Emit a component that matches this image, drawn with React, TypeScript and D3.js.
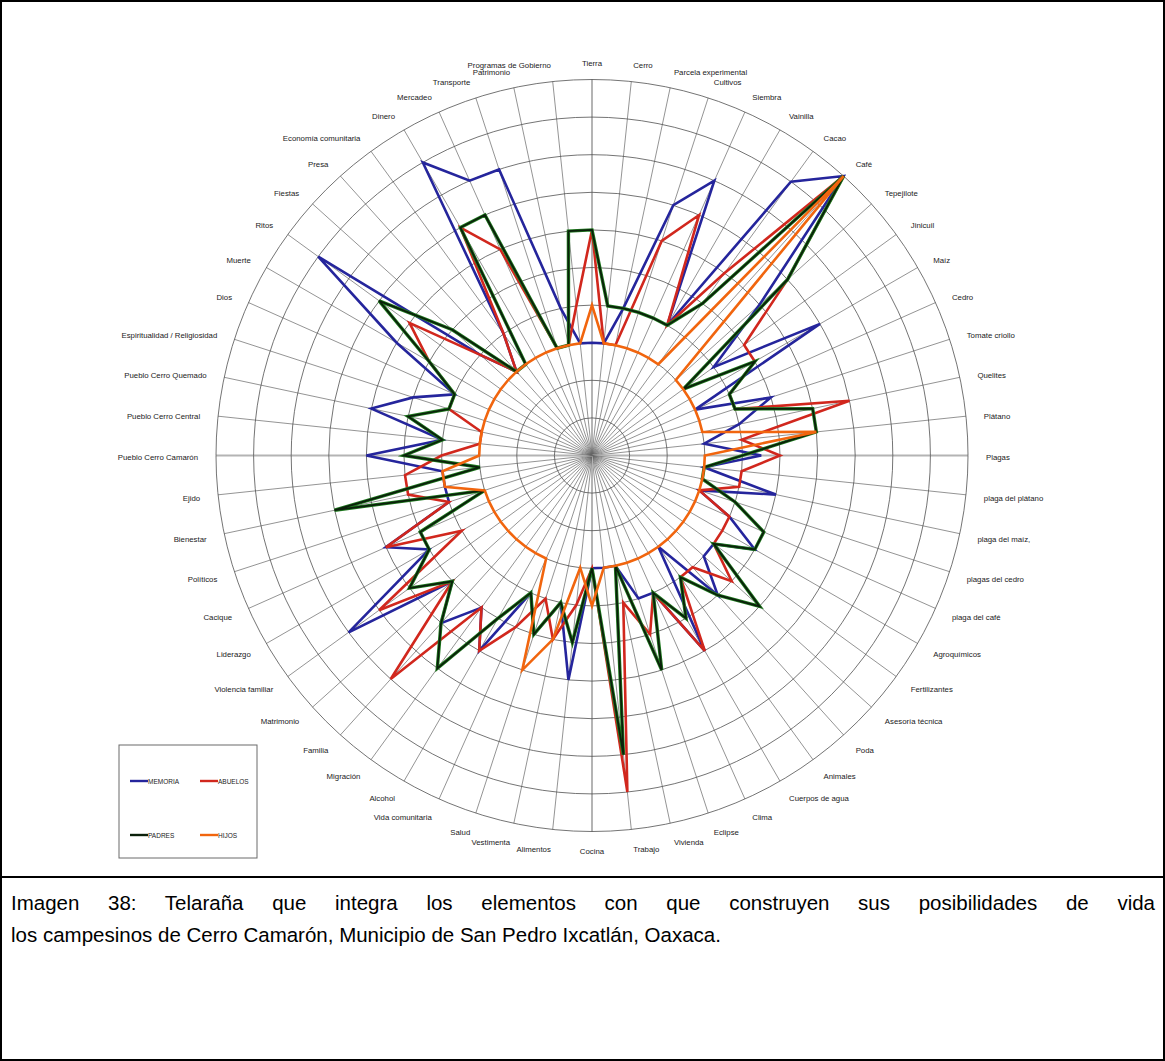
import { useEffect, useRef } from 'react';
import * as d3 from 'd3';

const categories = [
  'Tierra', 'Cerro', 'Parcela experimental', 'Cultivos', 'Siembra', 'Vainilla', 'Cacao', 'Café',
  'Tepejilote', 'Jinicuil', 'Maíz', 'Cedro', 'Tomate criollo', 'Quelites', 'Plátano', 'Plagas',
  'plaga del plátano', 'plaga del maíz,', 'plagas del cedro', 'plaga del café', 'Agroquímicos',
  'Fertilizantes', 'Asesoría técnica', 'Poda', 'Animales', 'Cuerpos de agua', 'Clima', 'Eclipse',
  'Vivienda', 'Trabajo', 'Cocina', 'Alimentos', 'Vestimenta', 'Salud', 'Vida comunitaria',
  'Alcohol', 'Migración', 'Familia', 'Matrimonio', 'Violencia familiar', 'Liderazgo', 'Cacique',
  'Políticos', 'Bienestar', 'Ejido', 'Pueblo Cerro Camarón', 'Pueblo Cerro Central',
  'Pueblo Cerro Quemado', 'Espiritualidad / Religiosidad', 'Dios', 'Muerte', 'Ritos', 'Fiestas',
  'Presa', 'Economía comunitaria', 'Dinero', 'Mercadeo', 'Transporte', 'Patrimonio',
  'Programas de Gobierno'
];

// values on the 0-10 ring scale, one per category
const memoria = [
  3, 3, 4, 7, 8, 4, 9, 10, 6, 4, 7, 3, 5, 4, 3, 4.5,
  3, 5, 3, 4, 5, 4, 4, 5, 3, 6, 4, 4, 3, 3,
  3, 6, 4, 5, 4, 6, 5, 6, 5, 8, 5, 6, 4, 4, 4,
  6, 4, 6, 5, 4, 6, 9, 4, 3, 4, 9, 8, 8, 4, 3
];
const abuelos = [
  6, 3, 3, 6, 7, 4, 6, 10, 7, 5, 5, 4, 4, 7, 4, 5,
  4, 4, 3, 4, 4, 4, 5, 4, 4, 6, 4, 5, 4, 9,
  3, 4, 5, 4, 5, 6, 5, 8, 5, 7, 4, 6, 4, 5, 5,
  4, 3, 3, 4, 4, 5, 6, 4, 3, 4, 7, 6, 3, 3, 4
];
const padres = [
  6, 4, 4, 4, 4, 4, 5, 10, 7, 3, 5, 4, 4, 6, 6, 4,
  3, 3, 4, 5, 5, 4, 6, 5, 4, 5, 4, 6, 3, 8,
  3, 5, 4, 5, 4, 5, 7, 6, 5, 6, 5, 5, 3, 7, 3,
  5, 4, 5, 4, 4, 5, 7, 5, 3, 3, 7, 7, 3, 3, 6
];
const hijos = [
  4, 3, 3, 3, 3, 3, 3, 10, 3, 3, 3, 3, 3, 3, 6, 3,
  3, 3, 3, 3, 3, 3, 3, 3, 3, 3, 3, 3, 3, 3,
  4, 3, 5, 6, 3, 3, 3, 3, 3, 3, 3, 3, 3, 4, 4,
  3, 3, 3, 3, 3, 3, 3, 3, 3, 3, 3, 3, 3, 3, 3
];

const seriesNames = ['MEMORIA', 'ABUELOS', 'PADRES', 'HIJOS'];
const seriesValues = [memoria, abuelos, padres, hijos];
const seriesColors = ['#25259c', '#d1271d', '#0a200a', '#f1650e'];

const captionLines = [
  'Imagen 38: Telaraña que integra los elementos con que construyen sus posibilidades de vida',
  'los campesinos de Cerro Camarón, Municipio de San Pedro Ixcatlán, Oaxaca.'
];

export default function App() {
  const svgRef = useRef<SVGSVGElement | null>(null);

  useEffect(() => {
    if (!svgRef.current) return;
    const width = 1165;
    const height = 1061;
    const cx = 592;
    const cy = 455.5;
    const R = 376;
    const labelR = 394;

    const svg = d3.select(svgRef.current);
    svg.selectAll('*').remove();
    svg.attr('width', width).attr('height', height);

    svg.append('rect').attr('width', width).attr('height', height).attr('fill', '#ffffff');

    const r = d3.scaleLinear().domain([0, 10]).range([0, R]);
    const angle = d3.scaleLinear().domain([0, categories.length]).range([0, 2 * Math.PI]);

    const g = svg.append('g').attr('transform', `translate(${cx},${cy})`);

    // spokes
    g.selectAll('line.spoke')
      .data(categories)
      .enter()
      .append('line')
      .attr('class', 'spoke')
      .attr('x1', 0)
      .attr('y1', 0)
      .attr('x2', (d, i) => r(10) * Math.sin(angle(i)))
      .attr('y2', (d, i) => -r(10) * Math.cos(angle(i)))
      .attr('stroke', (d, i) => (i % 15 === 0 ? '#b4b4b4' : '#666666'))
      .attr('stroke-width', (d, i) => (i % 15 === 0 ? 2 : 0.7));

    // rings
    g.selectAll('circle.ring')
      .data(d3.range(1, 11))
      .enter()
      .append('circle')
      .attr('class', 'ring')
      .attr('r', d => r(d))
      .attr('fill', 'none')
      .attr('stroke', '#505050')
      .attr('stroke-width', 0.8);

    // category labels
    g.selectAll('text.cat')
      .data(categories)
      .enter()
      .append('text')
      .attr('class', 'cat')
      .attr('x', (d, i) => labelR * Math.sin(angle(i)))
      .attr('y', (d, i) => -labelR * Math.cos(angle(i)) + 2)
      .attr('text-anchor', (d, i) => (i === 0 || i === 30 ? 'middle' : i < 30 ? 'start' : 'end'))
      .attr('dominant-baseline', 'central')
      .attr('font-family', '"Liberation Sans", Arial, sans-serif')
      .attr('font-size', 7.8)
      .attr('fill', '#1a1a1a')
      .text(d => d);

    const line = d3.lineRadial<number>()
      .angle((d, i) => angle(i))
      .radius(d => r(d))
      .curve(d3.curveLinearClosed);

    seriesValues.forEach((vals, k) => {
      if (k === 2) {
        g.append('path')
          .attr('d', line(vals))
          .attr('fill', 'none')
          .attr('stroke', '#1f7a1f')
          .attr('stroke-width', 3.4)
          .attr('stroke-linejoin', 'miter');
      }
      g.append('path')
        .attr('d', line(vals))
        .attr('fill', 'none')
        .attr('stroke', seriesColors[k])
        .attr('stroke-width', k === 2 ? 1.8 : 2.6)
        .attr('stroke-linejoin', 'miter');
    });

    // legend
    const lg = svg.append('g').attr('transform', 'translate(119,745)');
    lg.append('rect')
      .attr('width', 138)
      .attr('height', 113)
      .attr('fill', '#ffffff')
      .attr('stroke', '#6a6a6a')
      .attr('stroke-width', 1);
    const legendPos = [[11, 36], [81, 36], [11, 90], [81, 90]];
    seriesNames.forEach((name, k) => {
      const [lx, ly] = legendPos[k];
      lg.append('line')
        .attr('x1', lx).attr('x2', lx + 18)
        .attr('y1', ly).attr('y2', ly)
        .attr('stroke', seriesColors[k])
        .attr('stroke-width', 2.4);
      lg.append('text')
        .attr('x', lx + 18)
        .attr('y', ly)
        .attr('dominant-baseline', 'central')
        .attr('font-family', '"Liberation Sans", Arial, sans-serif')
        .attr('font-size', 6.5)
        .attr('fill', '#222')
        .text(name);
    });

    // page frame and caption
    svg.append('rect')
      .attr('x', 1).attr('y', 1)
      .attr('width', width - 2).attr('height', height - 2)
      .attr('fill', 'none')
      .attr('stroke', '#000')
      .attr('stroke-width', 2);
    svg.append('line')
      .attr('x1', 0).attr('x2', width)
      .attr('y1', 877).attr('y2', 877)
      .attr('stroke', '#000')
      .attr('stroke-width', 2);

    const capX = 11;
    const capRight = 1155;
    captionLines.forEach((txt, k) => {
      const t = svg.append('text')
        .attr('x', capX)
        .attr('y', 910 + k * 32)
        .attr('font-family', '"Liberation Sans", Arial, sans-serif')
        .attr('font-size', 20.5)
        .attr('fill', '#000')
        .text(txt);
      if (k === 0) {
        const node = t.node() as SVGTextElement;
        const natural = node.getComputedTextLength();
        const spaces = txt.split(' ').length - 1;
        t.attr('word-spacing', (capRight - capX - natural) / spaces);
      }
    });
  }, []);

  return <svg ref={svgRef} style={{ position: 'absolute', left: 0, top: 0, display: 'block' }} />;
}
